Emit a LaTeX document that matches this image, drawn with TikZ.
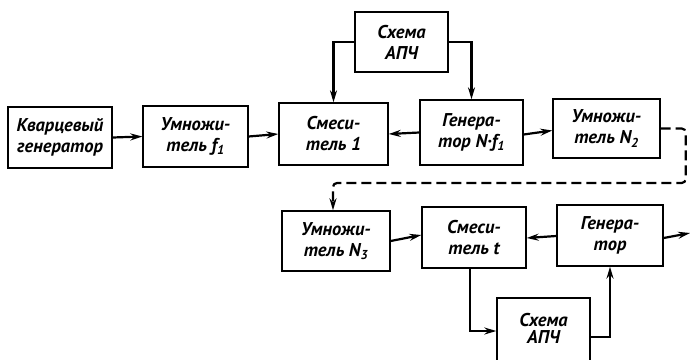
\documentclass[tikz,border=0pt]{standalone}
\usepackage{fontspec}
\setmainfont{PT Sans}
\usetikzlibrary{arrows.meta}
\tikzset{
  blk/.style={draw, line width=1.4pt, align=center, inner sep=0pt,
    font=\bfseries\itshape\fontsize{18.5}{21}\selectfont},
  conn/.style={line width=2.2pt, -{Stealth[length=12pt,width=7pt,inset=4pt]}},
  dashconn/.style={line width=2.2pt, dash pattern=on 10pt off 5pt, rounded corners=4pt,
    -{Stealth[length=12pt,width=7pt,inset=4pt]}}
}
\begin{document}
\begin{tikzpicture}[x=1pt,y=-1pt]
\useasboundingbox (0,0) rectangle (692,359);
\node[blk, minimum width=104pt, minimum height=61pt] (kg) at (60,137.5) {Кварцевый\\генератор};
\node[blk, minimum width=105pt, minimum height=61pt] (m1) at (195.5,136.5) {Умножи-\\тель f\textsubscript{1}};
\node[blk, minimum width=109pt, minimum height=62pt] (s1) at (333.5,134) {Смеси-\\тель 1};
\node[blk, minimum width=93pt, minimum height=60pt] (a1) at (401.5,42) {Схема\\АПЧ};
\node[blk, minimum width=103pt, minimum height=65pt] (g1) at (471.5,132.5) {Генера-\\тор N·f\textsubscript{1}};
\node[blk, minimum width=107pt, minimum height=59pt] (m2) at (606.5,128.5) {Умножи-\\тель N\textsubscript{2}};
\node[blk, minimum width=108pt, minimum height=60pt] (m3) at (336,241) {Умножи-\\тель N\textsubscript{3}};
\node[blk, minimum width=104pt, minimum height=61pt] (s2) at (474,237.5) {Смеси-\\тель t};
\node[blk, minimum width=106pt, minimum height=61pt] (g2) at (610,235.5) {Генера-\\тор};
\node[blk, minimum width=93pt, minimum height=66pt] (a2) at (543.5,331) {\raisebox{5pt}{\shortstack{Схема\\[1pt]АПЧ}}};
\coordinate (out) at (690,233);
\draw[conn] (kg.east) -- (m1.west);
\draw[conn] (m1.east) -- (s1.west);
\draw[conn] (a1.west) -| (s1.north);
\draw[conn] (a1.east) -| (g1.north);
\draw[conn] (g1.west) -- (s1.east);
\draw[conn] ([yshift=-2pt]g1.east) -- ([yshift=-2pt]m2.west);
\draw[dashconn] (m2.east) -- ++(25,0) -- ++(0,54.5) -| ([xshift=-3pt]m3.north);
\draw[conn] (m3.east) -- ([yshift=2.5pt]s2.west);
\draw[conn] ([yshift=-0.5pt]g2.west) -- ([yshift=-0.5pt]s2.east);
\draw[conn] ([yshift=-2.5pt]g2.east) -- (out);
\draw[conn] ([xshift=-4pt]s2.south) |- (a2.west);
\draw[conn] ([yshift=-6pt]a2.east) -| (g2.south);
\end{tikzpicture}
\end{document}
